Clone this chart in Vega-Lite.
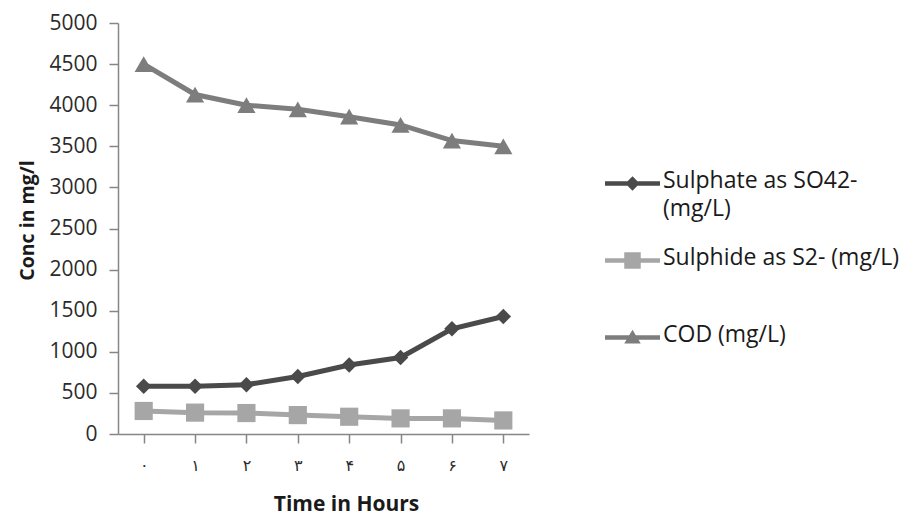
{
  "$schema": "https://vega.github.io/schema/vega-lite/v6.json",
  "autosize": {"type": "none"},
  "padding": {"left": 118, "top": 23, "right": 375, "bottom": 81},
  "width": 411,
  "height": 411,
  "background": "#ffffff",
  "config": {
    "view": {"stroke": null},
    "font": "Open Sans",
    "axis": {"grid": false, "domainColor": "#868686", "tickColor": "#868686", "domainWidth": 1.5, "tickWidth": 1.5, "labelColor": "#2b2b2b", "titleColor": "#1a1a1a", "labelFont": "Open Sans", "titleFont": "Open Sans"}
  },
  "data": {
    "values": [
      {"hour": "۰", "series": "Sulphate as SO42- (mg/L)", "value": 580},
      {"hour": "۱", "series": "Sulphate as SO42- (mg/L)", "value": 580},
      {"hour": "۲", "series": "Sulphate as SO42- (mg/L)", "value": 600},
      {"hour": "۳", "series": "Sulphate as SO42- (mg/L)", "value": 700},
      {"hour": "۴", "series": "Sulphate as SO42- (mg/L)", "value": 840},
      {"hour": "۵", "series": "Sulphate as SO42- (mg/L)", "value": 930},
      {"hour": "۶", "series": "Sulphate as SO42- (mg/L)", "value": 1280},
      {"hour": "۷", "series": "Sulphate as SO42- (mg/L)", "value": 1430},
      {"hour": "۰", "series": "Sulphide as S2- (mg/L)", "value": 280},
      {"hour": "۱", "series": "Sulphide as S2- (mg/L)", "value": 260},
      {"hour": "۲", "series": "Sulphide as S2- (mg/L)", "value": 255},
      {"hour": "۳", "series": "Sulphide as S2- (mg/L)", "value": 230},
      {"hour": "۴", "series": "Sulphide as S2- (mg/L)", "value": 210},
      {"hour": "۵", "series": "Sulphide as S2- (mg/L)", "value": 190},
      {"hour": "۶", "series": "Sulphide as S2- (mg/L)", "value": 190},
      {"hour": "۷", "series": "Sulphide as S2- (mg/L)", "value": 165},
      {"hour": "۰", "series": "COD (mg/L)", "value": 4500},
      {"hour": "۱", "series": "COD (mg/L)", "value": 4130},
      {"hour": "۲", "series": "COD (mg/L)", "value": 4000},
      {"hour": "۳", "series": "COD (mg/L)", "value": 3950},
      {"hour": "۴", "series": "COD (mg/L)", "value": 3860},
      {"hour": "۵", "series": "COD (mg/L)", "value": 3760},
      {"hour": "۶", "series": "COD (mg/L)", "value": 3570},
      {"hour": "۷", "series": "COD (mg/L)", "value": 3500}
    ]
  },
  "encoding": {
    "x": {
      "field": "hour", "type": "ordinal", "sort": null,
      "scale": {"paddingInner": 0, "paddingOuter": 0},
      "axis": {"title": "Time in Hours", "labelAngle": 0, "bandPosition": 0, "tickSize": 9, "labelPadding": 14, "labelFontSize": 16, "labelFont": "DejaVu Sans", "titleFontSize": 21, "titleFontWeight": "bold", "titleX": 228, "titleY": 76, "titleBaseline": "alphabetic"}
    },
    "y": {
      "field": "value", "type": "quantitative",
      "scale": {"domain": [0, 5000], "nice": false},
      "axis": {"title": "Conc in mg/l", "format": "d", "values": [0, 500, 1000, 1500, 2000, 2500, 3000, 3500, 4000, 4500, 5000], "tickSize": 9, "labelPadding": 12, "labelFontSize": 21, "titleFontSize": 19.5, "titleFontWeight": "bold", "titleX": -85, "titleY": 197, "titleBaseline": "alphabetic", "titleAngle": -90, "titleAlign": "center"}
    },
    "color": {
      "field": "series", "type": "nominal",
      "scale": {"domain": ["Sulphate as SO42- (mg/L)", "Sulphide as S2- (mg/L)", "COD (mg/L)"], "range": ["#4a4a4a", "#a6a6a6", "#7d7d7d"]}
    }
  },
  "layer": [
    {
      "mark": {"type": "line", "strokeWidth": 5},
      "encoding": {
        "color": {
          "field": "series", "type": "nominal",
          "legend": {
            "orient": "none", "legendX": 487, "legendY": 133, "title": null,
            "symbolSize": 3025, "symbolStrokeWidth": 0, "symbolType": "M-1,-0.08H1V0.08H-1Z",
            "labelFontSize": 23, "labelColor": "#1a1a1a", "labelOffset": 3, "rowPadding": 12, "labelLimit": 400,
            "labelBaseline": "top", "gridAlign": "all",
            "labelExpr": "datum.label == 'Sulphate as SO42- (mg/L)' ? ['Sulphate as SO42-', '(mg/L)'] : datum.label",
            "encode": {
              "symbols": {"update": {
                "shape": {"signal": "datum.value == 'COD (mg/L)' ? 'M-1,-0.08H1V0.08H-1Z M0,-0.28L0.3,0.22H-0.3Z' : datum.value == 'Sulphide as S2- (mg/L)' ? 'M-1,-0.08H1V0.08H-1Z M-0.3,-0.3H0.3V0.3H-0.3Z' : 'M-1,-0.08H1V0.08H-1Z M0,-0.26L0.26,0L0,0.26L-0.26,0Z'"},
                "fill": {"scale": "color", "field": "value"},
                "strokeWidth": {"value": 0}
              }},
              "labels": {"update": {"dy": {"value": -14}, "lineHeight": {"value": 28}}}
            }
          }
        }
      }
    },
    {
      "transform": [{"filter": "datum.series == 'Sulphate as SO42- (mg/L)'"}],
      "mark": {"type": "point", "filled": true, "opacity": 1, "shape": "diamond", "size": 240},
      "encoding": {"color": {"field": "series", "type": "nominal", "legend": null}}
    },
    {
      "transform": [{"filter": "datum.series == 'Sulphide as S2- (mg/L)'"}],
      "mark": {"type": "point", "filled": true, "opacity": 1, "shape": "square", "size": 330},
      "encoding": {"color": {"field": "series", "type": "nominal", "legend": null}}
    },
    {
      "transform": [{"filter": "datum.series == 'COD (mg/L)'"}],
      "mark": {"type": "point", "filled": true, "opacity": 1, "shape": "triangle-up", "size": 330},
      "encoding": {"color": {"field": "series", "type": "nominal", "legend": null}}
    }
  ]
}
